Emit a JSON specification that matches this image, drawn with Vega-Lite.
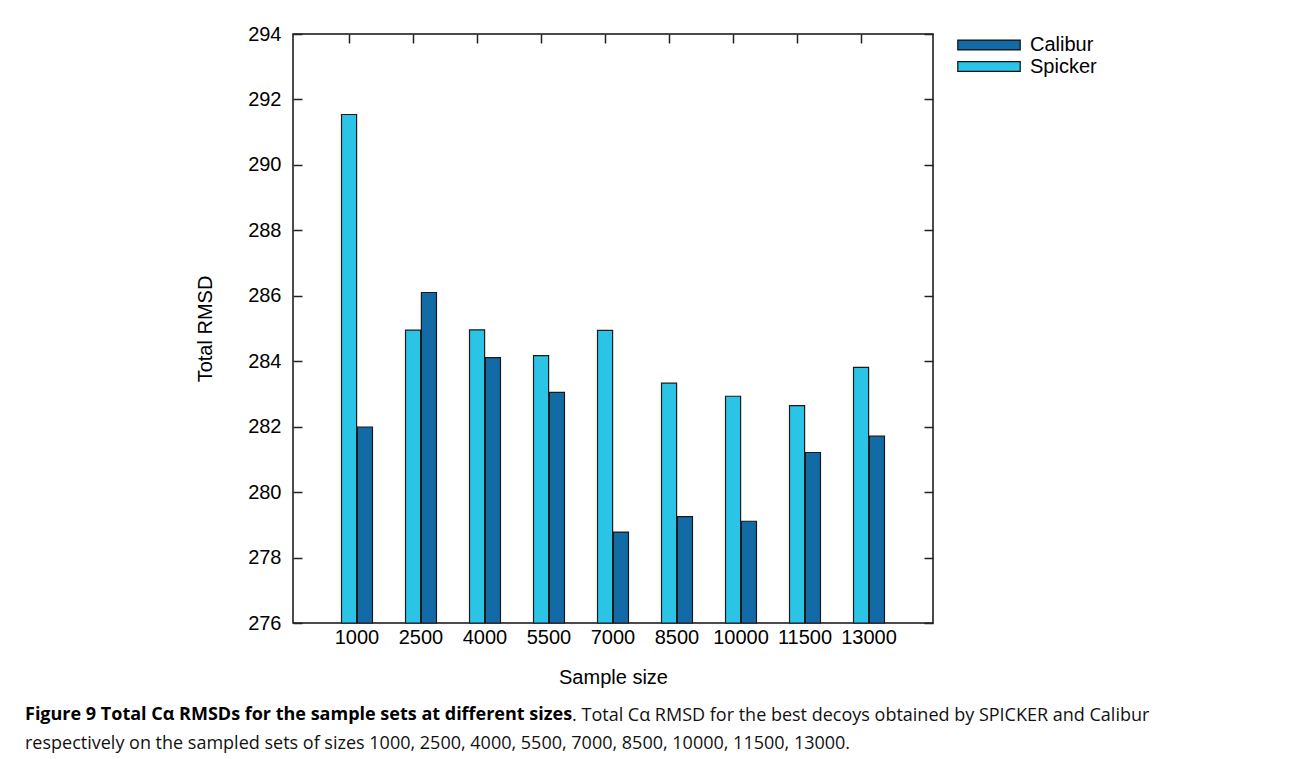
{
  "$schema": "https://vega.github.io/schema/vega-lite/v6.json",
  "width": 640,
  "height": 589,
  "autosize": {"type": "none"},
  "padding": {"left": 293, "top": 34, "right": 359, "bottom": 136},
  "background": "white",
  "config": {
    "font": "Liberation Sans",
    "view": {"stroke": "#111", "strokeWidth": 1.5},
    "axis": {
      "domain": false,
      "grid": false,
      "labelFont": "Liberation Sans",
      "labelFontSize": 20,
      "labelColor": "#000",
      "titleFont": "Liberation Sans",
      "titleFontSize": 20,
      "titleFontWeight": "normal",
      "titleColor": "#000",
      "tickColor": "#222",
      "tickWidth": 1.5
    }
  },
  "title": {
    "text": "Figure 9 Total Cα RMSDs for the sample sets at different sizes",
    "subtitle": [
      "\u200b\u00a0\u00a0\u00a0\u00a0\u00a0\u00a0\u00a0\u00a0\u00a0\u00a0\u00a0\u00a0\u00a0\u00a0\u00a0\u00a0\u00a0\u00a0\u00a0\u00a0\u00a0\u00a0\u00a0\u00a0\u00a0\u00a0\u00a0\u00a0\u00a0\u00a0\u00a0\u00a0\u00a0\u00a0\u00a0\u00a0\u00a0\u00a0\u00a0\u00a0\u00a0\u00a0\u00a0\u00a0\u00a0\u00a0\u00a0\u00a0\u00a0\u00a0\u00a0\u00a0\u00a0\u00a0\u00a0\u00a0\u00a0\u00a0\u00a0\u00a0\u00a0\u00a0\u00a0\u00a0\u00a0\u00a0\u00a0\u00a0\u00a0\u00a0\u00a0\u00a0\u00a0\u00a0\u00a0\u00a0\u00a0\u00a0\u00a0\u00a0\u00a0\u00a0\u00a0\u00a0\u00a0\u00a0\u00a0\u00a0\u00a0\u00a0\u00a0\u00a0\u00a0\u00a0\u00a0\u00a0\u00a0\u00a0\u00a0\u00a0\u00a0\u00a0\u00a0\u00a0\u00a0\u00a0\u00a0\u00a0\u00a0\u00a0\u00a0\u00a0\u00a0\u00a0\u00a0\u00a0\u00a0. Total Cα RMSD for the best decoys obtained by SPICKER and Calibur",
      "respectively on the sampled sets of sizes 1000, 2500, 4000, 5500, 7000, 8500, 10000, 11500, 13000."
    ],
    "orient": "bottom",
    "anchor": "start",
    "frame": "group",
    "dx": -268,
    "offset": 19,
    "font": "Open Sans",
    "fontSize": 18,
    "fontWeight": "bold",
    "color": "#000",
    "lineHeight": 28,
    "subtitleFont": "Open Sans",
    "subtitleFontSize": 18,
    "subtitleFontWeight": "normal",
    "subtitleColor": "#111",
    "subtitleLineHeight": 28,
    "subtitlePadding": -17
  },
  "data": {
    "values": [
      {"size": 1000, "method": "Spicker", "rmsd": 291.54},
      {"size": 1000, "method": "Calibur", "rmsd": 281.99},
      {"size": 2500, "method": "Spicker", "rmsd": 284.95},
      {"size": 2500, "method": "Calibur", "rmsd": 286.10},
      {"size": 4000, "method": "Spicker", "rmsd": 284.96},
      {"size": 4000, "method": "Calibur", "rmsd": 284.11},
      {"size": 5500, "method": "Spicker", "rmsd": 284.17},
      {"size": 5500, "method": "Calibur", "rmsd": 283.05},
      {"size": 7000, "method": "Spicker", "rmsd": 284.94},
      {"size": 7000, "method": "Calibur", "rmsd": 278.78},
      {"size": 8500, "method": "Spicker", "rmsd": 283.33},
      {"size": 8500, "method": "Calibur", "rmsd": 279.25},
      {"size": 10000, "method": "Spicker", "rmsd": 282.93},
      {"size": 10000, "method": "Calibur", "rmsd": 279.11},
      {"size": 11500, "method": "Spicker", "rmsd": 282.64},
      {"size": 11500, "method": "Calibur", "rmsd": 281.21},
      {"size": 13000, "method": "Spicker", "rmsd": 283.81},
      {"size": 13000, "method": "Calibur", "rmsd": 281.71}
    ]
  },
  "layer": [
    {
      "mark": {"type": "bar", "stroke": "#1a1a1a", "strokeWidth": 1.2},
      "encoding": {
        "x": {
          "field": "size",
          "type": "ordinal",
          "scale": {"paddingInner": 0.516, "paddingOuter": 0.758},
          "axis": {
            "orient": "bottom",
            "title": "Sample size",
            "labelAngle": 0,
            "ticks": false,
            "labelPadding": 4,
            "labelDx": -7.75,
            "titlePadding": 20
          }
        },
        "xOffset": {
          "field": "method",
          "scale": {"domain": ["Spicker", "Calibur"], "paddingInner": 0.05}
        },
        "y": {
          "field": "rmsd",
          "type": "quantitative",
          "scale": {"domain": [276, 294], "zero": false, "nice": false},
          "axis": {
            "orient": "left",
            "title": "Total RMSD",
            "values": [276, 278, 280, 282, 284, 286, 288, 290, 292, 294],
            "tickSize": -9,
            "labelPadding": 21,
            "titlePadding": 32
          }
        },
        "y2": {"datum": 276},
        "color": {
          "field": "method",
          "type": "nominal",
          "scale": {"domain": ["Calibur", "Spicker"], "range": ["#126ba6", "#2bc4e6"]},
          "legend": {
            "orient": "none",
            "legendX": 686,
            "legendY": 1,
            "title": null,
            "symbolType": "M-3.9,-0.62H3.9V0.62H-3.9Z",
            "symbolSize": 256,
            "symbolStrokeColor": "#111",
            "symbolStrokeWidth": 1.2,
            "symbolOpacity": 1,
            "labelFont": "Liberation Sans",
            "labelFontSize": 20,
            "labelColor": "#000",
            "labelOffset": 31,
            "padding": 0,
            "rowPadding": 1.5
          }
        }
      }
    },
    {
      "mark": {"type": "point", "opacity": 0},
      "encoding": {
        "x": {
          "field": "size",
          "type": "ordinal",
          "axis": {"orient": "top", "labels": false, "title": null, "tickSize": -9, "tickOffset": -7.75}
        },
        "y": {
          "field": "rmsd",
          "type": "quantitative",
          "axis": {
            "orient": "right",
            "labels": false,
            "title": null,
            "tickSize": -9,
            "values": [276, 278, 280, 282, 284, 286, 288, 290, 292, 294]
          }
        }
      }
    }
  ],
  "resolve": {"axis": {"x": "independent", "y": "independent"}}
}
